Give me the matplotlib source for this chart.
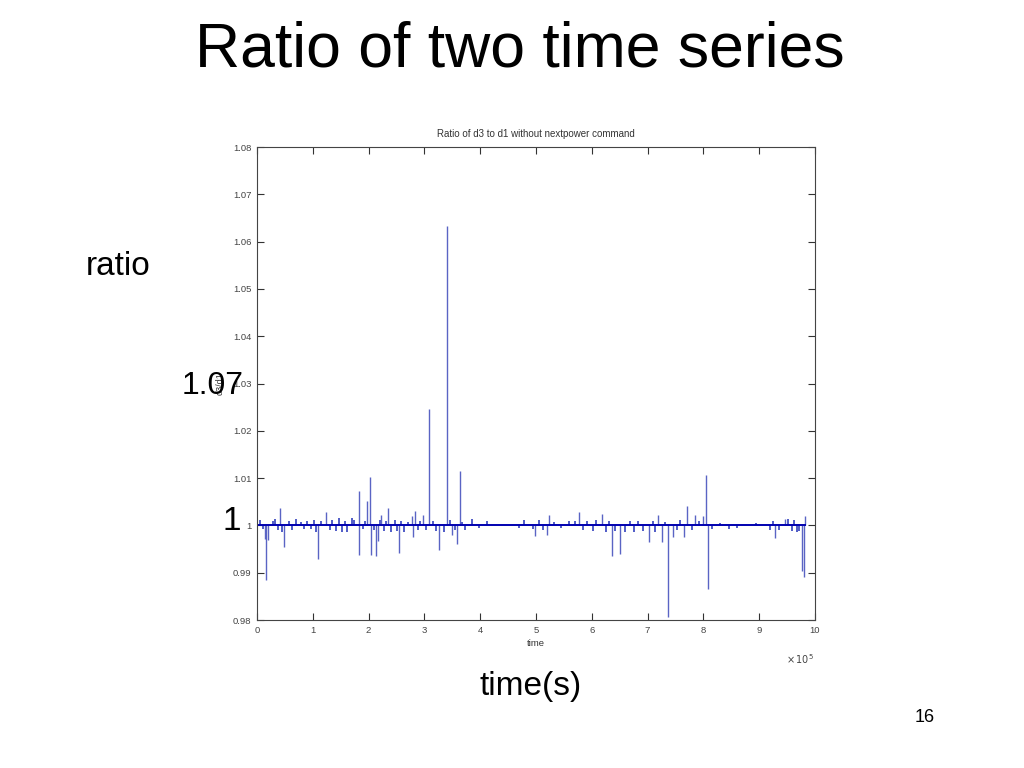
import matplotlib
matplotlib.use("Agg")
import matplotlib.pyplot as plt

# --- data (time in units of 1e5 s, ratio d3/d1) ---
spike_time = [0.15, 0.17, 0.20, 0.41, 0.49, 1.09, 1.23, 1.82, 1.83, 1.98, 2.03, 2.05,
              2.13, 2.16, 2.23, 2.35, 2.55, 2.78, 2.79, 2.84, 2.97, 3.09, 3.27, 3.405,
              3.50, 3.58, 3.63, 4.98, 5.19, 5.24, 5.77, 6.18, 6.36, 6.51, 7.03, 7.19,
              7.26, 7.37, 7.46, 7.65, 7.70, 7.85, 7.99, 8.05, 8.09, 9.29, 9.47, 9.76,
              9.81, 9.82]
spike_ratio = [0.9972, 0.9885, 0.9970, 1.0037, 0.9955, 0.9930, 1.0028, 1.0072, 0.9937,
               1.0051, 1.0102, 0.9937, 0.9935, 0.9967, 1.0023, 1.0037, 0.9942, 1.0020,
               0.9976, 1.0030, 1.0023, 1.0246, 0.9948, 1.0634, 0.9980, 0.9961, 1.0115,
               0.9977, 0.9979, 1.0021, 1.0028, 1.0025, 0.9935, 0.9940, 0.9965, 1.0021,
               0.9965, 0.9806, 0.9976, 0.9976, 1.0041, 1.0021, 1.0020, 1.0106, 0.9865,
               0.9974, 1.0014, 0.9904, 0.9890, 1.0020]
noise_time = [0.05, 0.10, 0.28, 0.33, 0.37, 0.45, 0.57, 0.62, 0.70, 0.78, 0.85, 0.90,
              0.96, 1.02, 1.05, 1.14, 1.30, 1.35, 1.41, 1.47, 1.53, 1.57, 1.62, 1.70,
              1.74, 1.90, 1.94, 2.09, 2.20, 2.27, 2.31, 2.41, 2.47, 2.51, 2.58, 2.63,
              2.70, 2.88, 2.93, 3.02, 3.15, 3.20, 3.35, 3.45, 3.55, 3.67, 3.72, 3.86,
              3.98, 4.12, 4.70, 4.78, 4.95, 5.06, 5.12, 5.32, 5.45, 5.60, 5.70, 5.84,
              5.92, 6.02, 6.08, 6.25, 6.30, 6.42, 6.60, 6.68, 6.75, 6.82, 6.92, 7.10,
              7.14, 7.32, 7.53, 7.58, 7.80, 7.92, 8.15, 8.30, 8.45, 8.60, 8.95, 9.20,
              9.25, 9.35, 9.52, 9.58, 9.63, 9.68, 9.72]
noise_ratio = [1.0012, 0.9992, 1.0010, 1.0013, 0.9990, 0.9985, 1.0009, 0.9991, 1.0013,
               1.0008, 0.9993, 1.0010, 0.9992, 1.0011, 0.9987, 1.0009, 0.9990, 1.0012,
               0.9989, 1.0015, 0.9985, 1.0010, 0.9986, 1.0016, 1.0011, 0.9992, 1.0009,
               0.9990, 1.0011, 0.9988, 1.0010, 0.9986, 1.0012, 0.9989, 1.0009, 0.9985,
               1.0008, 0.9991, 1.0010, 0.9990, 1.0009, 0.9988, 0.9986, 1.0012, 0.9990,
               1.0008, 0.9991, 1.0013, 0.9994, 1.0010, 0.9994, 1.0012, 0.9993, 1.0012,
               0.9990, 1.0008, 0.9994, 1.0009, 1.0010, 0.9990, 1.0009, 0.9988, 1.0011,
               0.9987, 1.0010, 0.9989, 0.9985, 1.0009, 0.9986, 1.0010, 0.9989, 1.0010,
               0.9987, 1.0008, 0.9990, 1.0012, 0.9991, 1.0010, 0.9992, 1.0006, 0.9993,
               0.9994, 1.0006, 0.9991, 1.0010, 0.9990, 1.0013, 0.9988, 1.0011, 0.9986,
               0.9989]
t_start, t_end = 0.0, 9.83

plt.rcParams['font.family'] = ['Liberation Sans', 'DejaVu Sans']

fig = plt.figure(figsize=(10.24, 7.68), dpi=100)
fig.patch.set_facecolor('white')

ax = fig.add_axes([257/1024, 1 - 620/768, (815 - 257)/1024, (620 - 147)/768])
ax.vlines(noise_time, 1.0, noise_ratio, color='#2030b8', lw=1.1)
ax.vlines(spike_time, 1.0, spike_ratio, color='#5a64c4', lw=1.0)
ax.hlines(1.0, t_start, t_end, color='#0000b0', lw=1.4)

ax.set_xlim(0, 10)
ax.set_ylim(0.98, 1.08)
ax.set_xticks(range(0, 11))
ax.set_yticks([0.98, 0.99, 1.0, 1.01, 1.02, 1.03, 1.04, 1.05, 1.06, 1.07, 1.08])
ax.set_yticklabels(['0.98', '0.99', '1', '1.01', '1.02', '1.03', '1.04', '1.05',
                    '1.06', '1.07', '1.08'])
ax.tick_params(direction='in', top=True, right=True, length=5, width=0.8,
               labelsize=6.8, labelcolor='#444444', color='#333333', pad=4)
for s in ax.spines.values():
    s.set_color('#444444')
    s.set_linewidth(0.8)

ax.set_title('Ratio of d3 to d1 without nextpower command', fontsize=7,
             color='#333333', pad=7)
ax.set_xlabel('time', fontsize=6.8, color='#333333', labelpad=3)
ax.set_ylabel('d3/d1', fontsize=6.5, color='#333333', labelpad=6)
fig.text(800/1024, 1 - 659/768, r'$\times\,10^{5}$', fontsize=7, color='#444444',
         ha='center', va='center')

# slide texts
fig.text(520/1024, 1 - 50/768, 'Ratio of two time series', fontsize=45,
         ha='center', va='center')
fig.text(86/1024, 1 - 266/768, 'ratio', fontsize=24, ha='left', va='center')
fig.text(213/1024, 1 - 386/768, '1.07', fontsize=23, ha='center', va='center')
fig.text(232/1024, 1 - 522/768, '1', fontsize=24, ha='center', va='center')
fig.text(531/1024, 1 - 687/768, 'time(s)', fontsize=24, ha='center', va='center')
fig.text(925/1024, 1 - 718/768, '16', fontsize=13, ha='center', va='center')

fig.savefig('out.png', dpi=100)
